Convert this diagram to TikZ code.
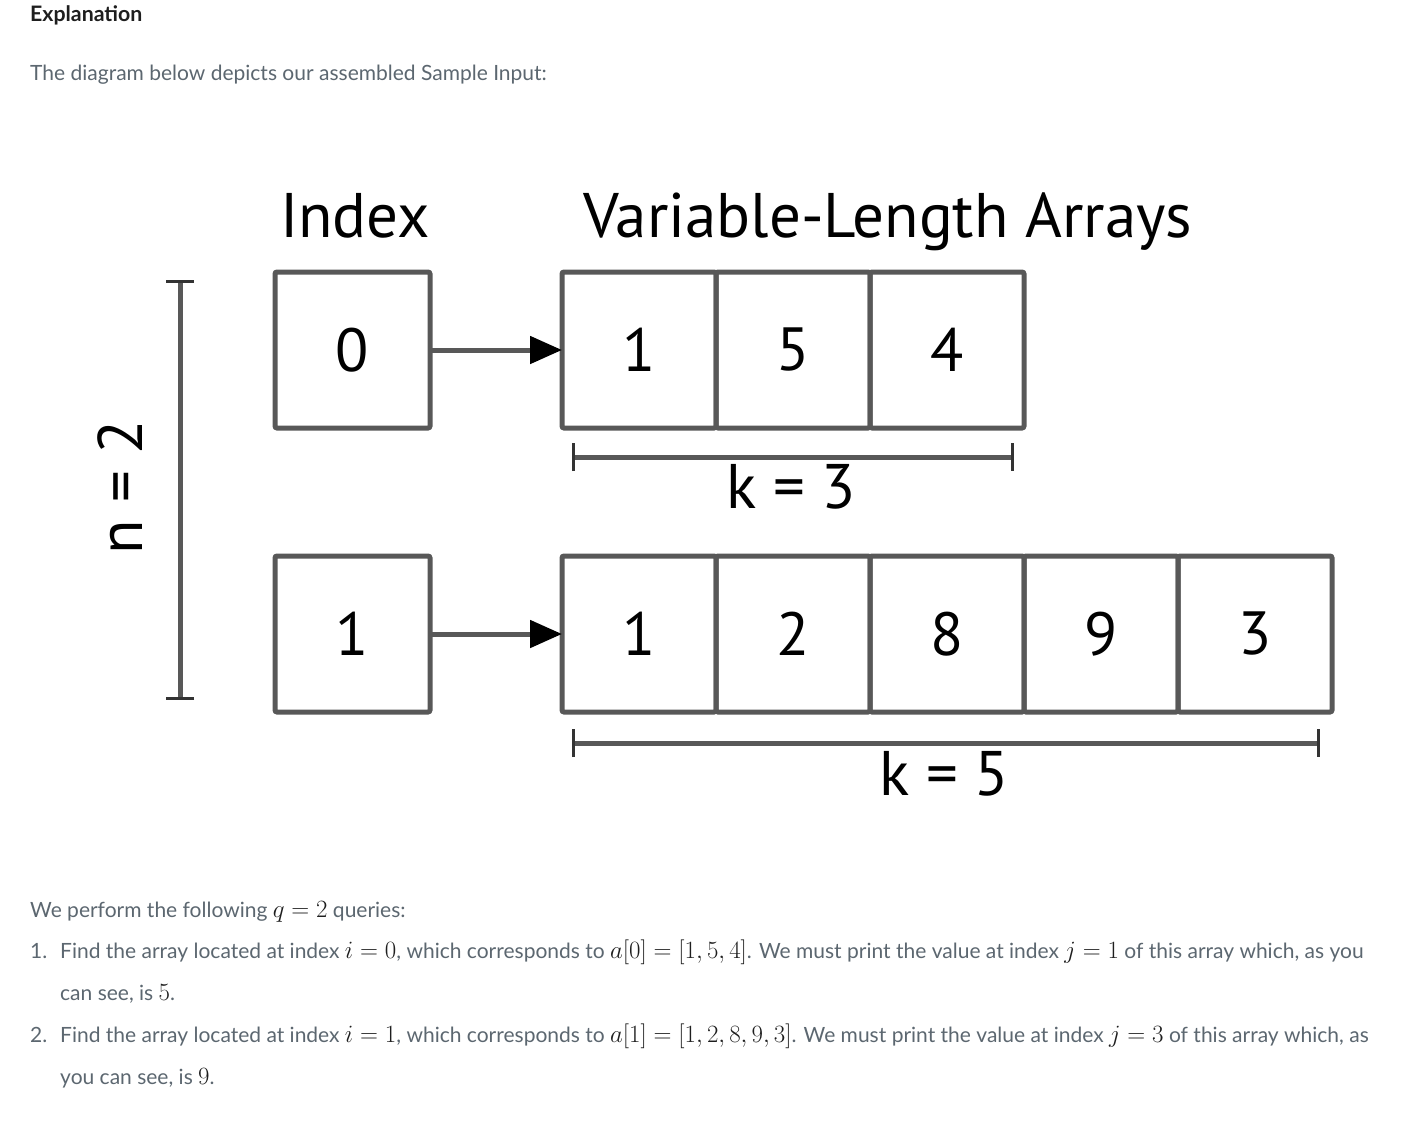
\documentclass[tikz,border=0pt]{standalone}
\usepackage{fontspec}
\setmainfont{Lato}
\newfontfamily\diagfont{PT Sans}
\usetikzlibrary{arrows.meta}
\definecolor{bodygray}{RGB}{92,103,112}
\definecolor{linegray}{RGB}{88,88,88}
\definecolor{headblack}{RGB}{30,30,30}
\newcommand{\mth}[1]{{\color{headblack}\fontsize{24}{28}\selectfont$#1$}}

\begin{document}
\begin{tikzpicture}[x=1pt, y=-1pt,
    head/.style={anchor=base west, inner sep=0, text=headblack, font=\fontsize{21.3}{25}\selectfont\bfseries},
    body/.style={anchor=base west, inner sep=0, text=bodygray, font=\fontsize{21}{25}\selectfont},
    title/.style={inner sep=0, font=\diagfont\fontsize{63}{75}\selectfont},
    cell/.style={draw=linegray, line width=5pt, rounded corners=2pt, minimum width=154pt, minimum height=156pt, inner sep=0, outer sep=0, font=\diagfont\fontsize{61}{72}\selectfont},
    ptr/.style={draw=linegray, line width=5pt, -{Triangle[length=32pt, width=27pt, color=black]}},
    dimline/.style={draw=linegray, line width=5pt, {Bar[width=28pt, line width=3pt, color=black!80]}-{Bar[width=28pt, line width=3pt, color=black!80]}}]
      \useasboundingbox[fill=white] (0,0) rectangle (1410,1124);

      \node[head] (expl) at (30,22) {Explanation};
      \node[body] (intro) at (30,80) {The diagram below depicts our assembled Sample Input:};

      \node[title, anchor=base west] (idx) at (280,237) {Index};
      \node[title, anchor=base west] (vla) at (583,237) {Variable-Length Arrays};

      \node[cell, minimum width=155pt] (I0) at (352.5,350) {0};
      \node[cell, minimum width=155pt] (I1) at (352.5,634) {1};

      \node[cell] (A0) at (639,350) {1};
      \node[cell] (A1) at (793,350) {5};
      \node[cell] (A2) at (947,350) {4};

      \node[cell] (B0) at (639,634) {1};
      \node[cell] (B1) at (793,634) {2};
      \node[cell] (B2) at (947,634) {8};
      \node[cell] (B3) at (1101,634) {9};
      \node[cell] (B4) at (1255,634) {3};

      \draw[ptr] (I0) -- (A0);
      \draw[ptr] (I1) -- (B0);

      \coordinate (K3a) at (572,457);
      \coordinate (K3b) at (1014,457);
      \coordinate (K5a) at (572,743);
      \coordinate (K5b) at (1320,743);
      \coordinate (Na) at (180,280);
      \coordinate (Nb) at (180,700);

      \draw[dimline] (K3a) -- (K3b);
      \draw[dimline] (K5a) -- (K5b);
      \draw[dimline] (Na) -- (Nb);

      \node[title, anchor=base] (k3) at (791,508) {k = 3};
      \node[title, anchor=base] (k5) at (944,795) {k = 5};
      \node[title, rotate=90] (n2) at (120,487) {n = 2};

      \node[body] (qline) at (30,917) {We perform the following \mth{q = 2} queries:};
      \node[body] (num1) at (30,958) {1.};
      \node[body] (q1a) at (60,958) {Find the array located at index \mth{i = 0}, which corresponds to \mth{a[0] = [1, 5, 4]}. We must print the value at index \mth{j = 1} of this array which, as you};
      \node[body] (q1b) at (60,1000) {can see, is \mth{5}.};
      \node[body] (num2) at (30,1042) {2.};
      \node[body] (q2a) at (60,1042) {Find the array located at index \mth{i = 1}, which corresponds to \mth{a[1] = [1, 2, 8, 9, 3]}. We must print the value at index \mth{j = 3} of this array which, as};
      \node[body] (q2b) at (60,1084) {you can see, is \mth{9}.};
    \end{tikzpicture}
\end{document}
